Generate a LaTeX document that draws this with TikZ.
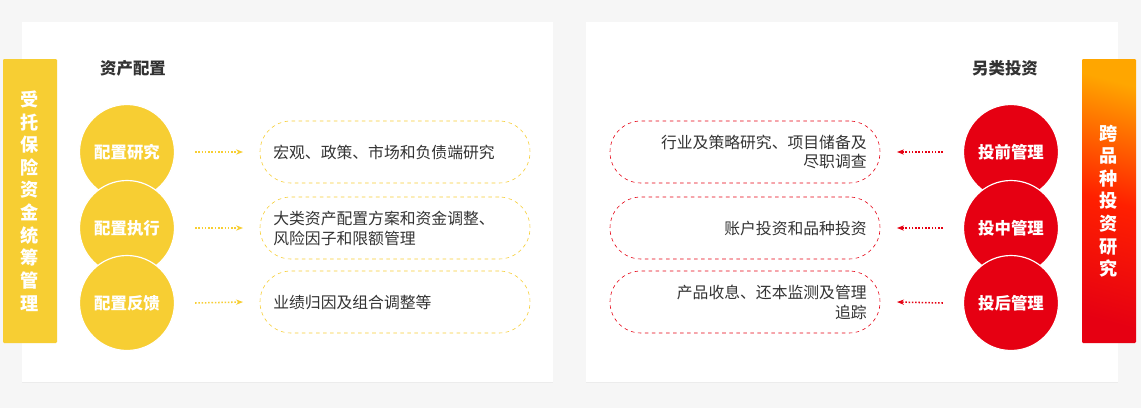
\documentclass[tikz,border=0pt]{standalone}
\usepackage{fontspec}
\setmainfont{Noto Sans CJK SC}
\usetikzlibrary{positioning,arrows.meta,shadows}
\definecolor{goldy}{HTML}{F7CE33}
\definecolor{redy}{HTML}{E60012}
\definecolor{darktext}{HTML}{333333}
\definecolor{bgray}{HTML}{F6F6F6}

\begin{document}
\begin{tikzpicture}[
      x=0.03cm, y=-0.03cm,
      >=Stealth,
      card/.style={fill=white,draw=none,drop shadow={opacity=0.08,shadow xshift=0pt,shadow yshift=-1pt}},
      ball/.style={circle,minimum size=2.85cm,draw=white,line width=1pt,
                   text=white,font=\bfseries\fontsize{14}{16}\selectfont,inner sep=0pt},
      pill/.style={rounded corners=0.93cm,dashed,line width=0.5pt,minimum width=8.1cm,
                   minimum height=1.86cm,text=darktext,font=\fontsize{13.5}{17}\selectfont,text width=7.3cm},
      flow/.style={-{Stealth[length=6pt]},dash pattern=on 1.3pt off 1.5pt,line width=1.3pt},
      head/.style={text=darktext,font=\bfseries\fontsize{14}{16}\selectfont},
      bartext/.style={text=white,font=\bfseries\fontsize{15.5}{19.3}\selectfont,align=center}
    ]
    \useasboundingbox[fill=bgray] (0,0) rectangle (1141,408);

    % cards
    \fill[card] (22,22) rectangle (553,382);
    \fill[card] (586,22) rectangle (1118,382);

    % side bars
    \fill[goldy,rounded corners=1pt] (3,59) rectangle (57,343);
    \node[bartext] (trust) at (30,201) {受\\托\\保\\险\\资\\金\\统\\筹\\管\\理};
    \shade[top color=orange!70!yellow,bottom color=redy,middle color=red!75!orange,shading angle=-15,rounded corners=1pt]
          (1082,59) rectangle (1136,343);
    \node[bartext] (cross) at (1109,201) {跨\\品\\种\\投\\资\\研\\究};

    % headings
    \node[head] (alloc) at (133,68) {资产配置};
    \node[head] (alter) at (1005,68) {另类投资};

    % left column
    \node[ball,fill=goldy] (research) at (127,152) {配置研究};
    \node[ball,fill=goldy] (execute) at (127,228) {配置执行};
    \node[ball,fill=goldy] (feedback) at (127,303) {配置反馈};
    \node[pill,draw=goldy] (macro) at (395,152) {宏观、政策、市场和负债端研究};
    \node[pill,draw=goldy] (plan) at (395,228) {大类资产配置方案和资金调整、\\风险因子和限额管理};
    \node[pill,draw=goldy] (review) at (395,302) {业绩归因及组合调整等};
    \foreach \a/\b in {research/macro,execute/plan,feedback/review}
      \draw[flow,goldy] ([xshift=0.6cm]\a.east) -- ([xshift=-0.5cm]\b.west);

    % right column
    \node[ball,fill=redy] (pre) at (1011,152) {投前管理};
    \node[ball,fill=redy] (mid) at (1011,228) {投中管理};
    \node[ball,fill=redy] (post) at (1011,303) {投后管理};
    \node[pill,draw=redy,align=right] (due) at (745,152) {行业及策略研究、项目储备及\\尽职调查};
    \node[pill,draw=redy,align=right] (acct) at (745,228) {账户投资和品种投资};
    \node[pill,draw=redy,align=right] (income) at (745,302) {产品收息、还本监测及管理\\追踪};
    \foreach \a/\b in {pre/due,mid/acct,post/income}
      \draw[flow,redy] ([xshift=-0.6cm]\a.west) -- ([xshift=0.5cm]\b.east);
  \end{tikzpicture}
\end{document}
